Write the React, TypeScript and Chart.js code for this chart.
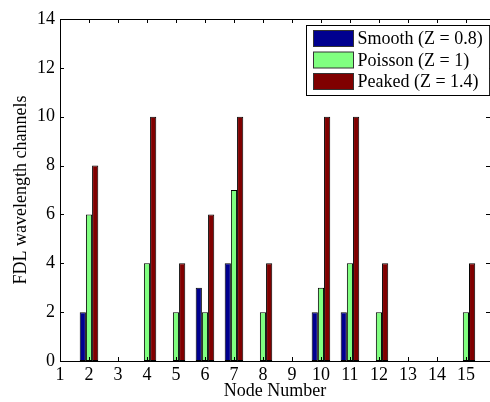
import React, { useEffect, useRef } from "react";
import { Chart, registerables } from "chart.js";

Chart.register(...registerables);

const nodes = [1, 2, 3, 4, 5, 6, 7, 8, 9, 10, 11, 12, 13, 14, 15];
const smooth = [0, 2, 0, 0, 0, 3, 4, 0, 0, 2, 2, 0, 0, 0, 0];
const poisson = [0, 6, 0, 4, 2, 2, 7, 2, 0, 3, 4, 2, 0, 0, 2];
const peaked = [0, 8, 0, 10, 4, 6, 10, 4, 0, 10, 10, 4, 0, 0, 4];
const seriesLabels = ["Smooth (Z = 0.8)", "Poisson (Z = 1)", "Peaked (Z = 1.4)"];
const seriesColors = ["#00008F", "#80FF80", "#800000"];
const xMin = 1;
const xMax = 15.83;
const yMin = 0;
const yMax = 14;

const FONT = "Liberation Serif";

const axesPlugin = {
  id: "matlabAxes",
  afterDatasetsDraw(chart: any) {
    const { ctx, chartArea, scales } = chart;
    const { left, right, top, bottom } = chartArea;
    const x = scales.x;
    const y = scales.y;
    ctx.save();
    ctx.strokeStyle = "#000";
    ctx.lineWidth = 1;
    ctx.beginPath();
    ctx.moveTo(left, Math.round(top) + 0.5);
    ctx.lineTo(right, Math.round(top) + 0.5);
    x.ticks.forEach((t: any) => {
      const px = Math.round(x.getPixelForValue(t.value)) + 0.5;
      ctx.moveTo(px, bottom);
      ctx.lineTo(px, bottom - 4);
      ctx.moveTo(px, top);
      ctx.lineTo(px, top + 4);
    });
    y.ticks.forEach((t: any) => {
      const py = Math.round(y.getPixelForValue(t.value)) + 0.5;
      ctx.moveTo(left, py);
      ctx.lineTo(left + 4, py);
      ctx.moveTo(right, py);
      ctx.lineTo(right - 4, py);
    });
    ctx.stroke();
    ctx.restore();
  },
  afterDraw(chart: any) {
    const { ctx, chartArea } = chart;
    ctx.save();
    ctx.font = `18px "${FONT}"`;
    const widths = chart.data.datasets.map((d: any) => ctx.measureText(d.label).width);
    const maxW = Math.max(...widths);
    const boxW = 7 + 40 + 4 + maxW + 7;
    const rowH = 21.5;
    const boxH = 70;
    const bx = Math.round(chartArea.right - 1 - boxW) + 0.5;
    const by = Math.round(chartArea.top + 6) + 0.5;
    ctx.fillStyle = "#fff";
    ctx.fillRect(bx, by, boxW, boxH);
    ctx.strokeStyle = "#000";
    ctx.lineWidth = 1;
    ctx.strokeRect(bx, by, boxW, boxH);
    chart.data.datasets.forEach((d: any, i: number) => {
      const cy = by + 13 + i * rowH;
      ctx.fillStyle = d.backgroundColor;
      ctx.fillRect(bx + 7, cy - 8, 40, 16);
      ctx.strokeStyle = "#333";
      ctx.strokeRect(bx + 7, cy - 8, 40, 16);
      ctx.fillStyle = "#000";
      ctx.textBaseline = "middle";
      ctx.textAlign = "left";
      ctx.fillText(d.label, bx + 51, cy + 1);
    });
    ctx.restore();
  },
};

export default function App() {
  const ref = useRef<HTMLCanvasElement>(null);
  useEffect(() => {
    if (!ref.current) return;
    const mk = (vals: number[], i: number) => ({
      label: seriesLabels[i],
      data: nodes.map((n, k) => ({ x: n, y: vals[k] })),
      backgroundColor: seriesColors[i],
      borderColor: "#000",
      borderWidth: 1,
      borderSkipped: false,
      categoryPercentage: 0.64,
      barPercentage: 1,
    });
    const chart = new Chart(ref.current, {
      type: "bar",
      data: {
        datasets: [mk(smooth, 0), mk(poisson, 1), mk(peaked, 2)] as any,
      },
      options: {
        animation: false,
        responsive: true,
        maintainAspectRatio: false,
        layout: { padding: { top: 19, right: 0, left: 0, bottom: 0 } },
        plugins: { legend: { display: false }, tooltip: { enabled: false } },
        scales: {
          x: {
            type: "linear",
            min: xMin,
            max: xMax,
            offset: false,
            grid: { display: false, drawTicks: false },
            border: { display: true, color: "#000", width: 1 },
            ticks: {
              stepSize: 1,
              includeBounds: false,
              color: "#000",
              font: { family: FONT, size: 18 },
              padding: 3,
              maxRotation: 0,
              autoSkip: false,
            },
            afterBuildTicks: (s: any) => {
              s.ticks = s.ticks.filter((t: any) => Number.isInteger(t.value));
            },
            afterFit: (s: any) => {
              s.height = 41;
            },
            title: {
              display: true,
              text: "Node Number",
              color: "#000",
              font: { family: FONT, size: 18 },
              padding: { top: 0, bottom: 0 },
            },
          } as any,
          y: {
            min: yMin,
            max: yMax,
            grid: { display: false, drawTicks: false },
            border: { display: true, color: "#000", width: 1 },
            ticks: {
              stepSize: 2,
              color: "#000",
              font: { family: FONT, size: 18 },
              padding: 5,
            },
            afterFit: (s: any) => {
              s.width = 60;
            },
            title: {
              display: true,
              text: "FDL wavelength channels",
              color: "#000",
              font: { family: FONT, size: 18 },
              padding: { top: 10, bottom: 0 },
            },
          },
        },
      },
      plugins: [axesPlugin],
    });
    return () => chart.destroy();
  }, []);
  return (
    <div style={{ position: "absolute", left: 0, top: 0, width: 490, height: 402, background: "#fff" }}>
      <canvas ref={ref} />
    </div>
  );
}
